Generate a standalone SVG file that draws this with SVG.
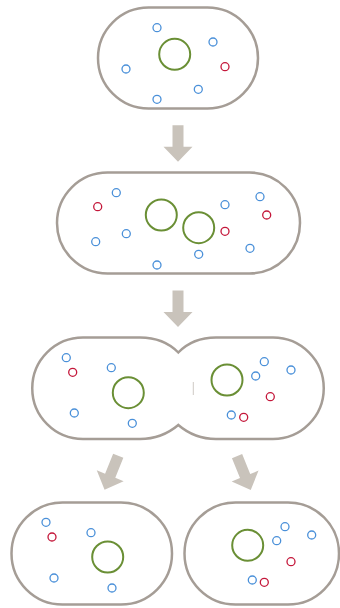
<svg xmlns="http://www.w3.org/2000/svg" width="340" height="608" viewBox="0 0 340 608">
  <style>
    .wall { fill: #ffffff; stroke: #a59d96; stroke-width: 2.5; }
    .nuc { fill: none; stroke: #6a8f35; stroke-width: 2; }
    .b { fill: none; stroke: #4a90d9; stroke-width: 1.3; }
    .r { fill: none; stroke: #c4173a; stroke-width: 1.3; }
    .step { fill: #c9c3bb; }
  </style>
  <defs>
    <!-- downward block arrow centred on the origin -->
    <path id="downArrow" d="M-5.5,-18 H5.5 V3.5 H14.5 L0,18.5 L-14.5,3.5 H-5.5 Z"/>
  </defs>

  <!-- single cell -->
  <g id="cell-1">
    <rect class="wall" x="98" y="7.5" width="160" height="101" rx="50.5"/>
    <circle class="nuc" cx="174.7" cy="54.3" r="15.5"/>
    <circle class="b" cx="157" cy="27.7" r="4"/>
    <circle class="b" cx="213" cy="42" r="4"/>
    <circle class="b" cx="126" cy="69" r="4"/>
    <circle class="b" cx="198.3" cy="89.3" r="4"/>
    <circle class="b" cx="157" cy="99.3" r="4"/>
    <circle class="r" cx="225" cy="66.7" r="4"/>
  </g>

  <!-- elongated cell with two nuclei -->
  <g id="cell-2">
    <rect class="wall" x="57" y="172.5" width="243" height="101" rx="50.5"/>
    <circle class="nuc" cx="161.3" cy="215" r="15.5"/>
    <circle class="nuc" cx="198.7" cy="227.7" r="15.5"/>
    <circle class="b" cx="116.3" cy="192.7" r="4"/>
    <circle class="b" cx="260" cy="196.7" r="4"/>
    <circle class="b" cx="225" cy="204.7" r="4"/>
    <circle class="b" cx="126.3" cy="233.7" r="4"/>
    <circle class="b" cx="95.7" cy="241.7" r="4"/>
    <circle class="b" cx="250" cy="248.3" r="4"/>
    <circle class="b" cx="198.7" cy="254.3" r="4"/>
    <circle class="b" cx="157" cy="265" r="4"/>
    <circle class="r" cx="97.7" cy="206.7" r="4"/>
    <circle class="r" cx="266.7" cy="215" r="4"/>
    <circle class="r" cx="225" cy="231.3" r="4"/>
  </g>

  <!-- constricting cell -->
  <g id="cell-3">
    <path class="wall" d="M83,337.5 H140 C159,337.5 170,344 178.3,352.5 C186.5,344 197.5,337.5 216,337.5 H273 A50.75,50.75 0 0 1 273,439 H216 C197.5,439 186.5,432 178.3,425 C170,432 159,439 140,439 H83 A50.75,50.75 0 0 1 83,337.5 Z"/>
    <line x1="193.3" y1="382" x2="193.3" y2="395" stroke="#c8c3be" stroke-width="0.9"/>
    <circle class="nuc" cx="128.3" cy="392.7" r="15.5"/>
    <circle class="nuc" cx="227" cy="380" r="15.5"/>
    <circle class="b" cx="66.3" cy="357.7" r="4"/>
    <circle class="b" cx="111.3" cy="367.7" r="4"/>
    <circle class="b" cx="74.3" cy="413" r="4"/>
    <circle class="b" cx="132.3" cy="423.3" r="4"/>
    <circle class="r" cx="72.7" cy="372.3" r="4"/>
    <circle class="b" cx="264.3" cy="361.7" r="4"/>
    <circle class="b" cx="291" cy="370" r="4"/>
    <circle class="b" cx="255.7" cy="376" r="4"/>
    <circle class="b" cx="231.3" cy="415" r="4"/>
    <circle class="r" cx="270.3" cy="396.7" r="4"/>
    <circle class="r" cx="243.7" cy="417.3" r="4"/>
  </g>

  <!-- daughter cell, left -->
  <g id="cell-4a">
    <rect class="wall" x="11.5" y="502.5" width="160.5" height="102" rx="51"/>
    <circle class="nuc" cx="107.7" cy="557" r="15.5"/>
    <circle class="b" cx="46" cy="522.3" r="4"/>
    <circle class="b" cx="91" cy="532.7" r="4"/>
    <circle class="b" cx="54" cy="578" r="4"/>
    <circle class="b" cx="112" cy="588" r="4"/>
    <circle class="r" cx="52" cy="537" r="4"/>
  </g>

  <!-- daughter cell, right -->
  <g id="cell-4b">
    <rect class="wall" x="184.5" y="502.5" width="154.5" height="102" rx="51"/>
    <circle class="nuc" cx="247.7" cy="545.3" r="15.5"/>
    <circle class="b" cx="285" cy="526.7" r="4"/>
    <circle class="b" cx="311.7" cy="535" r="4"/>
    <circle class="b" cx="276.7" cy="540.7" r="4"/>
    <circle class="b" cx="252.3" cy="580" r="4"/>
    <circle class="r" cx="291" cy="561.7" r="4"/>
    <circle class="r" cx="264.3" cy="582.3" r="4"/>
  </g>

  <!-- step arrows -->
  <g id="connectors" class="step">
    <use href="#downArrow" transform="translate(178,143.3)"/>
    <use href="#downArrow" transform="translate(178,308.5)"/>
    <use href="#downArrow" transform="translate(111.5,472.5) rotate(22)"/>
    <use href="#downArrow" transform="translate(243.8,472.8) rotate(-22)"/>
  </g>
</svg>
